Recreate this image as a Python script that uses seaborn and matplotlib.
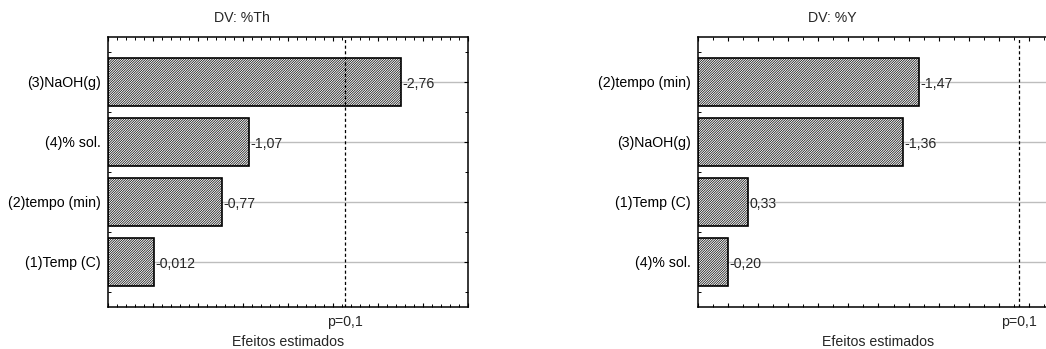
import matplotlib
matplotlib.use("Agg")
import matplotlib.pyplot as plt
import matplotlib.ticker as mticker
import seaborn as sns
import pandas as pd

# Standardized effects (Pareto charts), one panel per dependent variable
th_factors = ["(3)NaOH(g)", "(4)% sol.", "(2)tempo (min)", "(1)Temp (C)"]
th_effects = [-2.76, -1.07, -0.77, -0.012]
th_decimals = [2, 2, 2, 3]

y_factors = ["(2)tempo (min)", "(3)NaOH(g)", "(1)Temp (C)", "(4)% sol."]
y_effects = [-1.47, -1.36, 0.33, -0.20]
y_decimals = [2, 2, 2, 2]

p_critical = 2.132   # t value at p = 0.1
titles = ["DV: %Th", "DV: %Y"]

sns.set_style("white")
plt.rcParams["font.family"] = ["Liberation Sans", "DejaVu Sans"]
plt.rcParams["hatch.linewidth"] = 0.5
plt.rcParams["hatch.color"] = "#505050"

fig = plt.figure(figsize=(10.46, 3.49), dpi=100)

panels = [
    dict(factors=th_factors, effects=th_effects, dec=th_decimals,
         rect=[108 / 1046, 42 / 349, 360 / 1046, 270 / 349],
         xlim=(-0.5, 3.5), major=0.5, minor=0.1, title_x=242 / 1046),
    dict(factors=y_factors, effects=y_effects, dec=y_decimals,
         rect=[698 / 1046, 42 / 349, 361 / 1046, 270 / 349],
         xlim=(0.0, 2.4), major=0.2, minor=0.1, title_x=832 / 1046),
]

fs = 10.2
for panel, title in zip(panels, titles):
    ax = fig.add_axes(panel["rect"])
    df = pd.DataFrame({"factor": panel["factors"],
                       "abs_effect": [abs(v) for v in panel["effects"]]})
    xmin, xmax = panel["xlim"]

    # reference grid behind the bars
    for i in range(len(df)):
        ax.axhline(i, color="#bdbdbd", lw=1.0, zorder=0)

    sns.barplot(data=df, x="abs_effect", y="factor", orient="h",
                order=panel["factors"], color="white", edgecolor="black",
                linewidth=1.2, width=0.8, saturation=1, ax=ax, zorder=2)
    # bars start at the left edge of the axis
    for patch, val in zip(ax.patches, df["abs_effect"]):
        patch.set_x(xmin)
        patch.set_width(val - xmin)
        patch.set_hatch("//////////////")

    for i, (v, d) in enumerate(zip(panel["effects"], panel["dec"])):
        txt = f"{v:.{d}f}".replace(".", ",")
        ax.text(abs(v) + (xmax - xmin) * 0.004, i, txt, va="center_baseline",
                ha="left", fontsize=fs, zorder=3)

    ax.axvline(p_critical, color="black", lw=0.9, ls=(0, (2.5, 2)), zorder=4)
    ax.text(p_critical, -0.03, "p=0,1", transform=ax.get_xaxis_transform(),
            ha="center", va="top", fontsize=fs)

    ax.set_xlim(xmin, xmax)
    ax.set_ylim(3.75, -0.75)
    ax.xaxis.set_major_locator(mticker.MultipleLocator(panel["major"]))
    ax.xaxis.set_minor_locator(mticker.MultipleLocator(panel["minor"]))
    ax.yaxis.set_minor_locator(mticker.FixedLocator([-0.5, 0.5, 1.5, 2.5, 3.5]))
    ax.tick_params(axis="both", which="both", direction="in", top=True,
                   right=True, bottom=True, left=True, colors="black")
    ax.tick_params(axis="both", which="major", length=3, width=0.8)
    ax.tick_params(axis="both", which="minor", length=2, width=0.7)
    ax.tick_params(axis="x", labelbottom=False)
    ax.tick_params(axis="y", labelsize=fs, pad=5)
    ax.set_ylabel("")
    ax.set_xlabel("Efeitos estimados", fontsize=fs, labelpad=17)
    for s in ax.spines.values():
        s.set_color("black")
        s.set_linewidth(1.1)
        s.set_visible(True)

    fig.text(panel["title_x"], 1 - 18 / 349, title, ha="center", va="center",
             fontsize=fs)

fig.savefig("out.png", dpi=100)
